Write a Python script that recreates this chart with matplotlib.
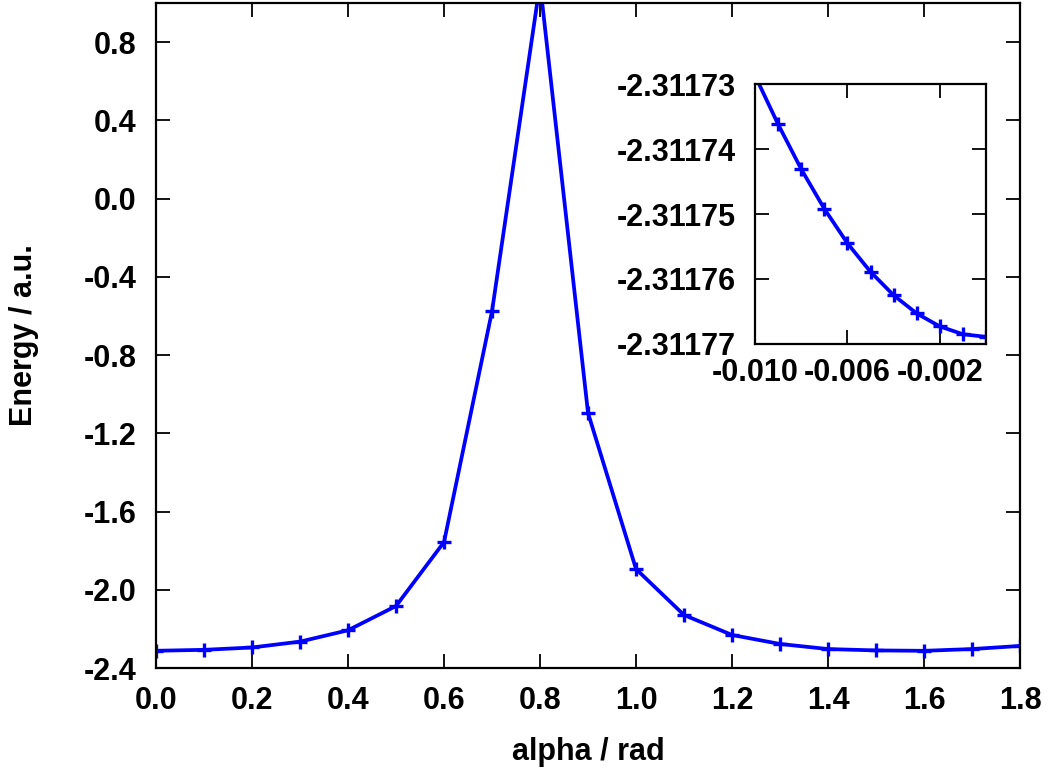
import numpy as np
import matplotlib
matplotlib.use("Agg")
import matplotlib.pyplot as plt
from matplotlib.ticker import FuncFormatter, FormatStrFormatter

# main scan: energy vs alpha
alpha = [0.0, 0.1, 0.2, 0.3, 0.4, 0.5, 0.6, 0.7, 0.8, 0.9,
         1.0, 1.1, 1.2, 1.3, 1.4, 1.5, 1.6, 1.7, 1.8]
energy = [-2.3118, -2.307, -2.295, -2.265, -2.207, -2.083, -1.756, -0.575, 1.10, -1.096,
          -1.894, -2.129, -2.231, -2.277, -2.303, -2.310, -2.312, -2.303, -2.287]

# zoom near alpha = 0
alpha_zoom = [-0.010, -0.009, -0.008, -0.007, -0.006, -0.005,
              -0.004, -0.003, -0.002, -0.001, 0.000]
energy_zoom = [-2.3117287, -2.3117362, -2.3117431, -2.3117492, -2.3117545, -2.3117589,
               -2.3117625, -2.3117653, -2.3117673, -2.3117685, -2.3117689]

plt.rcParams['font.family'] = ['Liberation Sans', 'DejaVu Sans']
plt.rcParams['font.weight'] = 'bold'
plt.rcParams['font.size'] = 22

fig = plt.figure(figsize=(10.6, 7.73), dpi=100)
ax = fig.add_axes([0.1472, 0.1358, 0.8151, 0.8603])

line_kw = dict(color='#0000ff', lw=2.7, marker='+', ms=10, mew=2.4)
ax.plot(alpha, energy, **line_kw)
ax.set_xlim(0, 1.8)
ax.set_ylim(-2.4, 1.0)
ax.set_xticks(np.round(np.arange(0, 1.81, 0.2), 1))
ax.set_yticks(np.round(np.arange(-2.4, 0.81, 0.4), 1))
fmt1 = FuncFormatter(lambda v, p: f"{v + 0.0:.1f}" if abs(v) > 1e-9 else "0.0")
ax.xaxis.set_major_formatter(fmt1)
ax.yaxis.set_major_formatter(fmt1)
ax.set_xlabel('alpha / rad', fontweight='bold', labelpad=15)
ax.set_ylabel('Energy / a.u.', fontweight='bold', labelpad=32)

ax.tick_params(direction='in', length=10, width=1.3, top=True, right=True, pad=13)
ax.tick_params(axis='y', pad=14)
for s in ax.spines.values():
    s.set_linewidth(1.6)

ins = fig.add_axes([0.7123, 0.555, 0.2179, 0.3363])
ins.plot(alpha_zoom, energy_zoom, **line_kw)
ins.set_xlim(-0.010, 0.0)
ins.set_ylim(-2.31177, -2.31173)
ins.set_xticks([-0.010, -0.006, -0.002])
ins.set_yticks([-2.31177, -2.31176, -2.31175, -2.31174, -2.31173])
ins.xaxis.set_major_formatter(FormatStrFormatter('%.3f'))
ins.yaxis.set_major_formatter(FormatStrFormatter('%.5f'))
ins.tick_params(direction='in', length=10, width=1.3, top=True, right=True, pad=10)
ins.tick_params(axis='y', pad=14)
for s in ins.spines.values():
    s.set_linewidth(1.6)

fig.savefig('out.png', dpi=100)
